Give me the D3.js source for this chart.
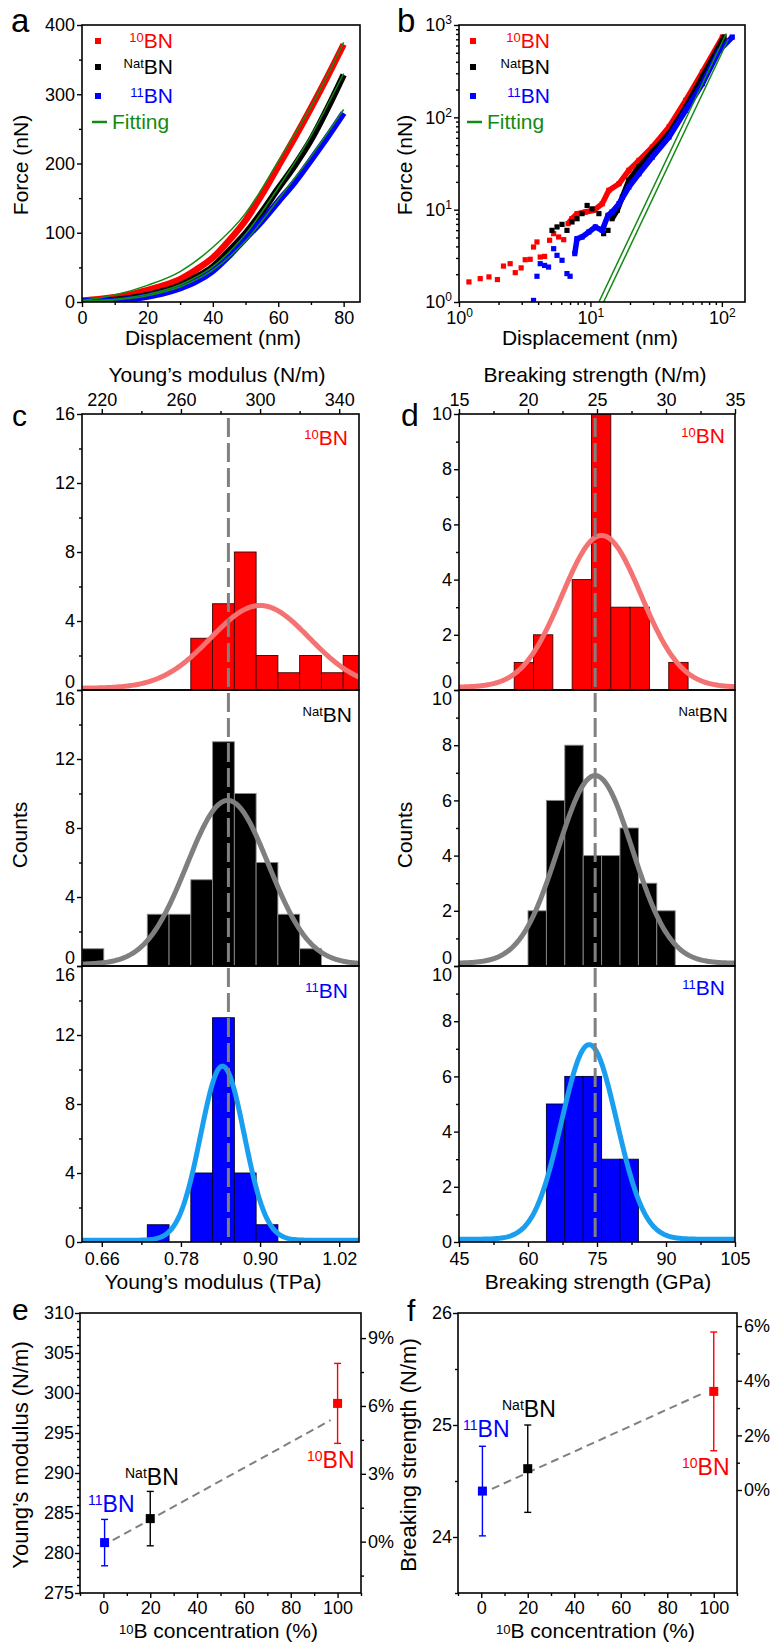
<!DOCTYPE html>
<html>
<head>
<meta charset="utf-8">
<script src="https://cdn.jsdelivr.net/npm/d3@7/dist/d3.min.js"></script>
<style>
  body { margin: 0; background: #fff; }
  svg text { font-family: "Liberation Sans", Arial, sans-serif; }
</style>
</head>
<body>
<svg id="fig" width="770" height="1644"></svg>
<script>
// ---------- a: force vs displacement ----------
var dispA    = [0, 5, 10, 15, 20, 25, 30, 35, 40, 45, 50, 55, 60, 65, 70, 75, 80];
var force10  = [2, 4, 7, 11, 17, 24, 33, 47, 64, 89, 118, 155, 196, 237, 280, 325, 372];
var forceNat = [1, 1.5, 3, 6, 10, 16, 24, 36, 51, 74, 99, 130, 164, 197, 234, 279, 328];
var force11  = [1, 1, 2, 4, 8, 13, 20, 30, 45, 67, 92, 117, 145, 173, 205, 238, 273];
var fitDispA = [0, 10, 20, 30, 40, 50, 60, 70, 80];
var fit10    = [2, 10, 24, 44, 79, 128, 203, 282, 375];
var fitNat   = [1, 4, 11, 25, 51, 98, 165, 240, 330];
var fit11    = [1, 3, 9, 22, 46, 88, 148, 210, 278];

// ---------- b: log-log ----------
var dispB10  = [1.19,1.45,1.69,1.96,2.18,2.45,2.68,2.97,3.19,3.48,3.69,3.92,4.15,4.48,4.89,5.25,5.73,6.26,6.76,7.24,7.91,9.16,10.6,12.3,13.8,16.5,19.6,23.4,29.6,39.6,53.1,71.2,101];
var forceB10 = [1.65,1.79,1.87,1.75,2.45,2.60,2.08,2.34,2.87,2.90,3.94,4.47,3.07,3.12,4.66,5.50,5.06,4.73,7.05,8.0,9.05,9.44,9.84,11.6,16.2,19.1,26.7,34.2,47.7,78.6,153,310,741];
var dispBNat  = [5.1,5.57,6.08,6.63,7.24,7.91,8.64,9.44,10.3,11.6,12.6,13.6,14.6,16.0,17.5,19.6,23.4,29.6,39.6,53.1,71.2,104];
var forceBNat = [5.97,6.5,6.93,5.97,7.36,7.98,9.06,11.1,10.2,9.06,5.5,5.97,7.98,9.84,13.7,20.8,29.0,42.2,66.5,129,275,741];
var dispB11  = [3.69,3.92,4.15,4.48,4.8,5.25,5.57,6.08,6.63,7.0,7.6,7.91,8.64,9.72,10.9,12.3,13.6,14.6,16.5,19.6,23.4,29.6,39.6,53.1,71.2,95.6,120];
var forceB11 = [1.04,1.90,2.60,2.49,2.39,3.78,3.2,2.83,2.03,1.90,3.34,4.85,5.06,5.73,6.49,5.97,8.68,9.44,11.6,17.6,24.5,37.2,61.2,119,232,532,741];
var denseFrom = [6.7, 14.0, 7.5];          // where the marker cloud turns into a band (10BN, NatBN, 11BN)
var fitBDisp  = [[11.6, 108], [12.6, 112]];
var fitBForce = [[1, 810], [1, 700]];

// ---------- c: Young's modulus histograms ----------
var ymBinLeft = [0.630,0.663,0.696,0.729,0.762,0.795,0.828,0.861,0.894,0.927,0.960,0.993,1.026];
var ymBinWidth = 0.033;
var ymCounts10  = [0,0,0,0,0,3,5,8,2,1,2,1,2];
var ymCountsNat = [1,0,0,3,3,5,13,10,6,3,1,0,0];
var ymCounts11  = [0,0,0,1,0,4,13,4,1,0,0,0,0];
var ymFitCenter = [0.900, 0.851, 0.843];
var ymFitSigma  = [0.075, 0.062, 0.033];
var ymFitPeak   = [4.8, 9.5, 10.1];
var ymMean = 0.852;

// ---------- d: breaking strength histograms ----------
var bsBinLeft10  = [57.0,61.2,65.4,69.6,73.8,78.0,82.2,86.4,90.6];
var bsBinLeftNat = [60,64,68,72,76,80,84,88];
var bsBinLeft11  = [64,68,72,76,80];
var bsBinWidth   = [4.2, 4, 4];
var bsCounts10  = [1,2,0,4,10,3,3,0,1];
var bsCountsNat = [2,6,8,4,4,5,3,2];
var bsCounts11  = [5,6,6,3,3];
var bsFitCenter = [76.0, 74.6, 73.3];
var bsFitSigma  = [8.6, 8.1, 6.0];
var bsFitPeak   = [5.5, 6.8, 7.05];
var bsMean = 74.6;

// ---------- e / f: vs 10B concentration (order: 11BN, NatBN, 10BN) ----------
var conc   = [0.5, 20, 100];
var ymE    = [281.3, 284.3, 298.7];
var ymEErr = [2.9, 3.4, 5.0];
var ymLineX = [4, 97], ymLineY = [281.6, 296.6];
var bsF    = [24.41, 24.61, 25.30];
var bsFErr = [0.40, 0.39, 0.53];
var bsLineX = [4.6, 95], bsLineY = [24.43, 25.28];

var samples = ["10", "Nat", "11"];
var RED = "#ff0000", BLUE = "#0000ff", GREEN = "#138a13";
var sampleColor = [RED, "#000000", BLUE];
var concColor = [BLUE, "#000000", RED];
var curveColor = ["#f57272", "#7f7f7f", "#1a9ff0"];
var barStroke = ["#400000", "#8a8a8a", "#000030"];

var svg = d3.select("#fig");
var defs = svg.append("defs");

function clip(id, x0, y0, x1, y1) {
  defs.append("clipPath").attr("id", id).append("rect")
    .attr("x", x0).attr("y", y0).attr("width", x1 - x0).attr("height", y1 - y0);
  return "url(#" + id + ")";
}

function frame(x0, y0, x1, y1) {
  svg.append("rect").attr("x", x0).attr("y", y0).attr("width", x1 - x0).attr("height", y1 - y0)
    .attr("fill", "none").attr("stroke", "#000").attr("stroke-width", 1.6);
}

function axis(gen, tx, ty) {
  var a = svg.append("g").attr("transform", "translate(" + tx + "," + ty + ")").call(gen);
  a.select(".domain").remove();
  a.selectAll(".tick line").attr("stroke", "#000").attr("stroke-width", 1.4);
  a.selectAll(".tick text").attr("font-size", 18).attr("fill", "#000");
  return a;
}

function isoText(x, y, sup, main, color, size, anchor, rise) {
  var r = rise || size * 0.3;
  var t = svg.append("text").attr("x", x).attr("y", y).attr("fill", color)
    .attr("font-size", size).attr("text-anchor", anchor || "start");
  t.append("tspan").attr("font-size", Math.round(size * 0.62)).attr("dy", -r).text(sup);
  t.append("tspan").attr("dy", r).text(main);
  return t;
}

function title(txt, x, y, rot, size) {
  var t = svg.append("text").attr("font-size", size || 21).attr("fill", "#000").attr("text-anchor", "middle");
  if (rot) t.attr("transform", "translate(" + x + "," + y + ") rotate(-90)");
  else t.attr("x", x).attr("y", y);
  t.text(txt);
  return t;
}

function panelLetter(l, x, y, size) {
  svg.append("text").attr("x", x).attr("y", y).attr("font-size", size).attr("fill", "#000").text(l);
}

// ===================== panel a =====================
var ax = d3.scaleLinear().domain([0, 85]).range([82, 360]);
var ay = d3.scaleLinear().domain([0, 400]).range([302, 25]);
var clipA = clip("clipA", 82, 25, 360, 302);
var lineA = d3.line().x(function(d) { return ax(d[0]); }).y(function(d) { return ay(d[1]); })
  .curve(d3.curveMonotoneX);

var gA = svg.append("g").attr("clip-path", clipA);
[[force10, RED], [forceNat, "#000"], [force11, BLUE]].forEach(function(s) {
  gA.append("path").datum(d3.zip(dispA, s[0])).attr("d", lineA)
    .attr("fill", "none").attr("stroke", s[1]).attr("stroke-width", 6.5);
});
[fit10, fitNat, fit11].forEach(function(f) {
  gA.append("path").datum(d3.zip(fitDispA, f)).attr("d", lineA)
    .attr("fill", "none").attr("stroke", GREEN).attr("stroke-width", 1.5);
});
frame(82, 25, 360, 302);
axis(d3.axisBottom(ax).tickValues([0, 20, 40, 60, 80]).tickSize(5).tickPadding(4), 0, 302);
axis(d3.axisBottom(ax).tickValues([10, 30, 50, 70]).tickSize(3).tickFormat(""), 0, 302);
axis(d3.axisLeft(ay).tickValues([0, 100, 200, 300, 400]).tickSize(5).tickPadding(2), 82, 0);
axis(d3.axisLeft(ay).tickValues([50, 150, 250, 350]).tickSize(3).tickFormat(""), 82, 0);
title("Force (nN)", 28, 165, true);
title("Displacement (nm)", 213, 345);
panelLetter("a", 11, 32, 33);

function legend(sqX, textX, fitX0) {
  var rows = [41, 67, 96];
  samples.forEach(function(s, i) {
    svg.append("rect").attr("x", sqX - 3).attr("y", rows[i] - 3).attr("width", 6).attr("height", 6)
      .attr("fill", sampleColor[i]);
    isoText(textX, rows[i] + 7, s, "BN", sampleColor[i], 21, "end");
  });
  svg.append("line").attr("x1", fitX0).attr("x2", fitX0 + 15).attr("y1", 122).attr("y2", 122)
    .attr("stroke", GREEN).attr("stroke-width", 2.5);
  svg.append("text").attr("x", fitX0 + 20).attr("y", 129).attr("font-size", 21).attr("fill", GREEN).text("Fitting");
}
legend(98, 173, 92);

// ===================== panel b =====================
var bx = d3.scaleLog().domain([1, 150]).range([459, 745]);
var by = d3.scaleLog().domain([1, 1000]).range([302, 25]);
var clipB = clip("clipB", 459, 25, 745, 302);
var gB = svg.append("g").attr("clip-path", clipB);
var lineB = d3.line().x(function(d) { return bx(d[0]); }).y(function(d) { return by(d[1]); });
[[dispB10, forceB10], [dispBNat, forceBNat], [dispB11, forceB11]].forEach(function(s, i) {
  var pts = d3.zip(s[0], s[1]);
  gB.append("path").datum(pts.filter(function(d) { return d[0] >= denseFrom[i]; }))
    .attr("d", lineB).attr("fill", "none").attr("stroke", sampleColor[i]).attr("stroke-width", 5.5);
  gB.selectAll(null).data(pts).enter().append("rect")
    .attr("x", function(d) { return bx(d[0]) - 2.6; })
    .attr("y", function(d) { return by(d[1]) - 2.6; })
    .attr("width", 5.2).attr("height", 5.2).attr("fill", sampleColor[i]);
});
fitBDisp.forEach(function(xs, i) {
  gB.append("path").datum(d3.zip(xs, fitBForce[i])).attr("d", lineB)
    .attr("fill", "none").attr("stroke", GREEN).attr("stroke-width", 1.5);
});
frame(459, 25, 745, 302);
function powLabels(a) {
  a.selectAll(".tick text").each(function(d) {
    var t = d3.select(this);
    t.text(null);
    t.append("tspan").text("10");
    t.append("tspan").attr("font-size", 12).attr("dy", -7).text(Math.round(Math.log10(d)));
  });
}
var bMinorX = [], bMinorY = [];
[1, 10, 100].forEach(function(dec) {
  for (var k = 2; k <= 9; k++) {
    if (dec * k < 150) bMinorX.push(dec * k);
    bMinorY.push(dec * k);
  }
});
powLabels(axis(d3.axisBottom(bx).tickValues([1, 10, 100]).tickSize(5).tickPadding(4), 0, 302));
axis(d3.axisBottom(bx).tickValues(bMinorX).tickSize(3).tickFormat(""), 0, 302);
powLabels(axis(d3.axisLeft(by).tickValues([1, 10, 100, 1000]).tickSize(5).tickPadding(2), 459, 0));
axis(d3.axisLeft(by).tickValues(bMinorY).tickSize(3).tickFormat(""), 459, 0);
title("Force (nN)", 412, 165, true);
title("Displacement (nm)", 590, 345);
panelLetter("b", 397, 32, 33);
legend(473, 550, 467);

// ===================== c & d histograms =====================
var subTop = [414, 690, 966], subH = 276;

function gaussPts(xs, c, s, p) {
  return xs.map(function(x) { return [x, 0.1 + p * Math.exp(-(x - c) * (x - c) / (2 * s * s))]; });
}

function histColumn(cfg) {
  var x0 = cfg.range[0], x1 = cfg.range[1];
  var xs = d3.range(cfg.domain[0], cfg.domain[1] + cfg.step / 2, cfg.step);
  subTop.forEach(function(top, i) {
    var y = d3.scaleLinear().domain([0, cfg.ymax]).range([top + subH, top]);
    var cp = clip(cfg.id + i, x0, top, x1, top + subH);
    var g = svg.append("g").attr("clip-path", cp);
    var lefts = cfg.binLeft[i], counts = cfg.counts[i], w = cfg.binWidth[i];
    g.selectAll(null).data(d3.zip(lefts, counts).filter(function(d) { return d[1] > 0; }))
      .enter().append("rect")
      .attr("x", function(d) { return cfg.x(d[0]); })
      .attr("width", function(d) { return cfg.x(d[0] + w) - cfg.x(d[0]); })
      .attr("y", function(d) { return y(d[1]); })
      .attr("height", function(d) { return y(0) - y(d[1]); })
      .attr("fill", sampleColor[i]).attr("stroke", barStroke[i]).attr("stroke-width", 0.9);
    g.append("path").datum(gaussPts(xs, cfg.center[i], cfg.sigma[i], cfg.peak[i]))
      .attr("d", d3.line().x(function(d) { return cfg.x(d[0]); }).y(function(d) { return y(d[1]); }))
      .attr("fill", "none").attr("stroke", curveColor[i]).attr("stroke-width", 5);
    var la = axis(d3.axisLeft(y).tickValues(cfg.yMajor).tickSize(5).tickPadding(2), x0, 0);
    la.selectAll(".tick text").attr("y", function(d) {
      if (d === 0 && i < 2) return -8;
      if (d === cfg.ymax && i > 0) return 9;
      return null;
    });
    axis(d3.axisLeft(y).tickValues(cfg.yMinor).tickSize(3).tickFormat(""), x0, 0);
    isoText(cfg.labelX[i], cfg.labelY[i], samples[i], "BN", sampleColor[i], 21, "end");
  });
  svg.append("line").attr("x1", cfg.x(cfg.mean)).attr("x2", cfg.x(cfg.mean))
    .attr("y1", subTop[0] + 4).attr("y2", subTop[2] + subH)
    .attr("stroke", "#808080").attr("stroke-width", 3).attr("stroke-dasharray", "19,6");
  subTop.forEach(function(top) { frame(x0, top, x1, top + subH); });
  var bottom = subTop[2] + subH;
  axis(d3.axisBottom(cfg.x).tickValues(cfg.xMajor).tickSize(5).tickPadding(5).tickFormat(cfg.fmt), 0, bottom);
  axis(d3.axisBottom(cfg.x).tickValues(cfg.xMinor).tickSize(3).tickFormat(""), 0, bottom);
  axis(d3.axisTop(cfg.xTop).tickValues(cfg.topMajor).tickSize(5).tickPadding(3).tickFormat(d3.format("d")), 0, subTop[0]);
  axis(d3.axisTop(cfg.xTop).tickValues(cfg.topMinor).tickSize(3).tickFormat(""), 0, subTop[0]);
}

var cx = d3.scaleLinear().domain([0.63, 1.05]).range([82, 359]);
histColumn({
  id: "clipC", x: cx, xTop: d3.scaleLinear().domain([210, 350]).range([82, 359]),
  domain: [0.63, 1.05], range: [82, 359], step: 0.002, ymax: 16,
  binLeft: [ymBinLeft, ymBinLeft, ymBinLeft], binWidth: [ymBinWidth, ymBinWidth, ymBinWidth],
  counts: [ymCounts10, ymCountsNat, ymCounts11],
  center: ymFitCenter, sigma: ymFitSigma, peak: ymFitPeak, mean: ymMean,
  yMajor: [0, 4, 8, 12, 16], yMinor: [2, 6, 10, 14],
  xMajor: [0.66, 0.78, 0.90, 1.02], xMinor: [0.72, 0.84, 0.96], fmt: d3.format(".2f"),
  topMajor: [220, 260, 300, 340], topMinor: [240, 280, 320],
  labelX: [348, 352, 348], labelY: [445, 722, 998]
});
title("Young\u2019s modulus (N/m)", 217, 382);
title("Counts", 27, 835, true);
title("Young\u2019s modulus (TPa)", 213, 1289);
panelLetter("c", 12, 426, 30);

var dx = d3.scaleLinear().domain([45, 105]).range([459, 735]);
histColumn({
  id: "clipD", x: dx, xTop: d3.scaleLinear().domain([15, 35]).range([459, 735]),
  domain: [45, 105], range: [459, 735], step: 0.25, ymax: 10,
  binLeft: [bsBinLeft10, bsBinLeftNat, bsBinLeft11], binWidth: bsBinWidth,
  counts: [bsCounts10, bsCountsNat, bsCounts11],
  center: bsFitCenter, sigma: bsFitSigma, peak: bsFitPeak, mean: bsMean,
  yMajor: [0, 2, 4, 6, 8, 10], yMinor: [1, 3, 5, 7, 9],
  xMajor: [45, 60, 75, 90, 105], xMinor: [52.5, 67.5, 82.5, 97.5], fmt: d3.format("d"),
  topMajor: [15, 20, 25, 30, 35], topMinor: [17.5, 22.5, 27.5, 32.5],
  labelX: [725, 728, 725], labelY: [443, 722, 995]
});
title("Breaking strength (N/m)", 595, 382);
title("Counts", 412, 835, true);
title("Breaking strength (GPa)", 598, 1289);
panelLetter("d", 401, 426, 32);

// ===================== e & f =====================
function concPanel(cfg) {
  var x = d3.scaleLinear().domain([-10, 110]).range([cfg.x0, cfg.x1]);
  var y = d3.scaleLinear().domain(cfg.yDomain).range([1593, 1313]);
  var yr = d3.scaleLinear().domain(cfg.rDomain).range([1593, 1313]);
  svg.append("path").datum(d3.zip(cfg.lineX, cfg.lineY))
    .attr("d", d3.line().x(function(d) { return x(d[0]); }).y(function(d) { return y(d[1]); }))
    .attr("fill", "none").attr("stroke", "#808080").attr("stroke-width", 2).attr("stroke-dasharray", "8,5");
  cfg.vals.forEach(function(v, i) {
    var cxp = x(conc[i]);
    svg.append("line").attr("x1", cxp).attr("x2", cxp).attr("y1", y(v - cfg.err[i])).attr("y2", y(v + cfg.err[i]))
      .attr("stroke", concColor[i]).attr("stroke-width", 1.4);
    [v - cfg.err[i], v + cfg.err[i]].forEach(function(e) {
      svg.append("line").attr("x1", cxp - 3.5).attr("x2", cxp + 3.5).attr("y1", y(e)).attr("y2", y(e))
        .attr("stroke", concColor[i]).attr("stroke-width", 1.4);
    });
    svg.append("rect").attr("x", cxp - 4.5).attr("y", y(v) - 4.5).attr("width", 9).attr("height", 9)
      .attr("fill", concColor[i]);
  });
  frame(cfg.x0, 1313, cfg.x1, 1593);
  axis(d3.axisBottom(x).tickValues([0, 20, 40, 60, 80, 100]).tickSize(5).tickPadding(3), 0, 1593);
  axis(d3.axisBottom(x).tickValues([-10, 10, 30, 50, 70, 90, 110]).tickSize(3).tickFormat(""), 0, 1593);
  axis(d3.axisLeft(y).tickValues(cfg.yMajor).tickSize(5).tickPadding(1).tickFormat(d3.format("d")), cfg.x0, 0);
  axis(d3.axisLeft(y).tickValues(cfg.yMinor).tickSize(3).tickFormat(""), cfg.x0, 0);
  axis(d3.axisRight(yr).tickValues(cfg.rMajor).tickSize(5).tickPadding(2)
    .tickFormat(function(d) { return d + "%"; }), cfg.x1, 0);
  axis(d3.axisRight(yr).tickValues(cfg.rMinor).tickSize(3).tickFormat(""), cfg.x1, 0);
  cfg.labels.forEach(function(p, i) {
    isoText(p[0], p[1], samples[i], "BN", sampleColor[i], 23, "start");
  });
  isoText((cfg.x0 + cfg.x1) / 2 - 2, 1638, "10", "B concentration (%)", "#000", 21, "middle", 4);
}

var ymMinor = [];
for (var v = 276; v < 310; v++) if (v % 5) ymMinor.push(v);
concPanel({
  x0: 80, x1: 361, yDomain: [275, 310], rDomain: [-2.27, 10.11],
  vals: ymE, err: ymEErr, lineX: ymLineX, lineY: ymLineY,
  yMajor: [275, 280, 285, 290, 295, 300, 305, 310], yMinor: ymMinor,
  rMajor: [0, 3, 6, 9], rMinor: [-1.5, 1.5, 4.5, 7.5],
  labels: [[307, 1468], [125, 1485], [88, 1512]]
});
title("Young\u2019s modulus (N/m)", 28, 1455, true, 22);
panelLetter("e", 12, 1320, 30);

concPanel({
  x0: 458, x1: 737, yDomain: [23.5, 26], rDomain: [-3.77, 6.48],
  vals: bsF, err: bsFErr, lineX: bsLineX, lineY: bsLineY,
  yMajor: [24, 25, 26], yMinor: [23.5, 24.5, 25.5],
  rMajor: [0, 2, 4, 6], rMinor: [1, 3, 5],
  labels: [[682, 1475], [502, 1417], [463, 1437]]
});
title("Breaking strength (N/m)", 416, 1455, true, 22);
panelLetter("f", 407, 1321, 30);
</script>
</body>
</html>
